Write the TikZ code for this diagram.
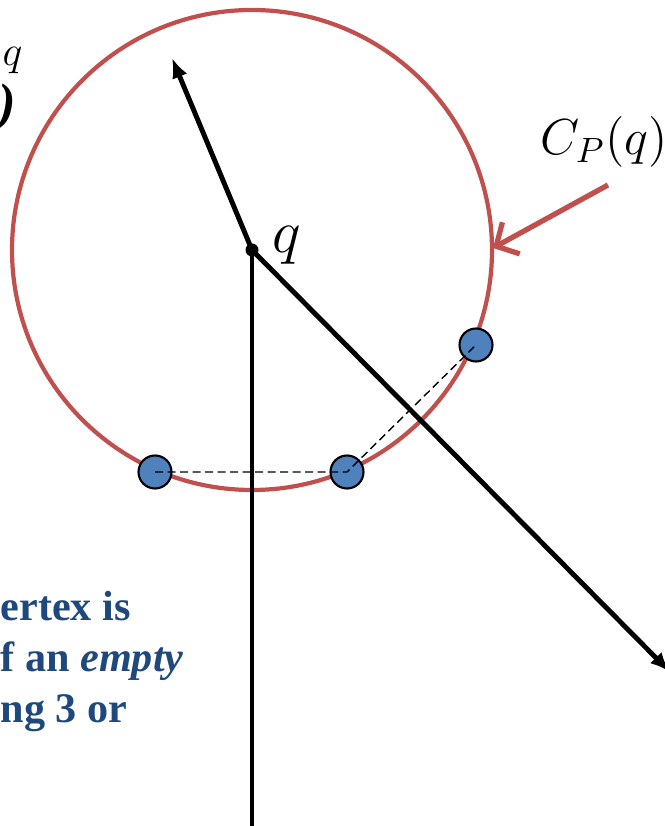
\documentclass[tikz,border=0pt]{standalone}
\usepackage{fontspec}
\setmainfont{Liberation Serif}
\usetikzlibrary{arrows.meta}
\definecolor{circred}{HTML}{C0504D}
\definecolor{siteblue}{HTML}{4F81BD}
\definecolor{textblue}{HTML}{1F497D}

\begin{document}
\begin{tikzpicture}[>={Latex[length=2mm,width=1.6mm]},
	ray/.style={line width=1.4pt},
	site/.style={circle, draw=black, line width=0.6pt, fill=siteblue, minimum size=3.3mm, inner sep=0pt}]
	\useasboundingbox (0,0) rectangle (6.65,8.26);
	\clip (0,0) rectangle (6.65,8.26);
	% query point and the ends of its rays
	\coordinate (q) at (2.52,5.76);
	\coordinate (up) at (1.72,7.68);
	\coordinate (down) at (2.52,-0.10);
	\coordinate (diag) at (6.70,1.54);
	% empty circle through three sites
	\draw[circred, line width=1.2pt] (q) circle (2.40);
	\node[site] (s1) at (1.55,3.54) {};
	\node[site] (s2) at (3.47,3.54) {};
	\node[site] (s3) at (4.76,4.81) {};
	\draw[dashed, line width=0.4pt, dash pattern=on 0.8mm off 0.45mm] (s1.center) -- (s2.center) -- (s3.center);
	\draw[ray, ->] (q) -- (up);
	\draw[ray] (q) -- (down);
	\draw[ray, ->] (q) -- (diag);
	\fill (q) circle (0.065);
	\node[anchor=base west, inner sep=0, font=\fontsize{19}{21}\selectfont] (qlbl) at (2.72,5.73) {$q$};
	% label of the circle
	\node[anchor=base west, inner sep=0, font=\fontsize{14.8}{17}\selectfont] (cp) at (5.40,6.71) {$C_P(q)$};
	\coordinate (from) at (6.08,6.41);
	\coordinate (to) at (4.93,5.78);
	\draw[circred, line width=1.5pt, -{Straight Barb[length=1.7mm,width=3.6mm]}] (from) -- (to);
	% cut-off text at the left edge
	\node[anchor=base west, inner sep=0, font=\fontsize{13}{15}\selectfont] (sup) at (0.02,7.60) {$q$};
	\node[anchor=base east, inner sep=0, font=\fontsize{15}{17}\selectfont\bfseries\itshape] (par) at (0.17,7.05) {)};
	\node[anchor=north west, inner sep=0, align=left, textblue, font=\fontsize{12}{14.5}\selectfont\bfseries] (note) at (0,2.35)
		{ertex is\\f an \textit{empty}\\ng 3 or};
\end{tikzpicture}
\end{document}
